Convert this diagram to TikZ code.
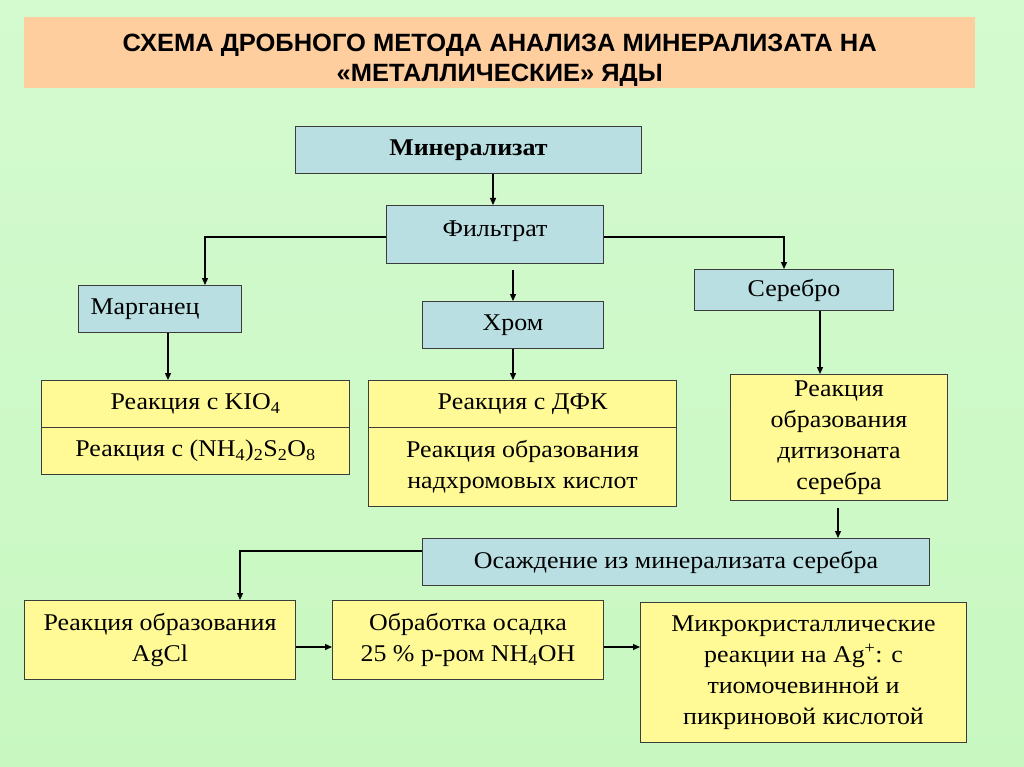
\documentclass[tikz,border=0pt]{standalone}
\usepackage{fontspec}
\setmainfont[FakeStretch=1.08]{Liberation Serif}
\newfontfamily\titlefont[FakeStretch=1.02]{Liberation Sans}
\usetikzlibrary{arrows.meta}
\definecolor{bgtop}{RGB}{212,250,208}
\definecolor{bgmid}{RGB}{250,255,248}
\definecolor{bgbot}{RGB}{200,248,192}
\definecolor{peach}{RGB}{255,206,158}
\definecolor{boxblue}{RGB}{185,223,226}
\definecolor{boxyellow}{RGB}{255,250,150}
\definecolor{edge}{RGB}{60,60,60}
\tikzset{
  basebox/.style={draw=edge, line width=1pt, inner sep=0pt, anchor=north west, align=center,
    font=\fontsize{24}{31}\selectfont},
  bluebox/.style={basebox, fill=boxblue},
  yellowbox/.style={basebox, fill=boxyellow},
  arr/.style={line width=1.3pt, -{Triangle[length=7pt,width=6pt]}},
}
\begin{document}
\begin{tikzpicture}[x=1pt,y=-1pt]
\useasboundingbox (0,0) rectangle (1024,767);
\shade[top color=bgtop, middle color=bgmid, bottom color=bgbot] (0,0) rectangle (1024,767);

% title
\node[fill=peach, minimum width=951pt, minimum height=71pt, inner sep=0pt, anchor=north west,
  align=center, font=\titlefont\bfseries\fontsize{25}{30}\selectfont] (title) at (24,17)
  {\rule{0pt}{32pt}СХЕМА ДРОБНОГО МЕТОДА АНАЛИЗА МИНЕРАЛИЗАТА НА\\«МЕТАЛЛИЧЕСКИЕ» ЯДЫ};

% blue boxes
\node[bluebox, minimum width=346pt, minimum height=47pt, font=\bfseries\fontsize{24}{31}\selectfont] (min) at (295,126) {Минерализат};
\node[bluebox, minimum width=217pt, minimum height=58pt] (fil) at (386,205) {Фильтрат\\[-19pt]\mbox{}};
\node[bluebox, minimum width=163pt, minimum height=47pt, text width=139pt, align=left, inner xsep=12pt] (mn) at (78,285) {Марганец};
\node[bluebox, minimum width=181pt, minimum height=47pt] (cr) at (422,301) {Хром};
\node[bluebox, minimum width=199pt, minimum height=41pt] (ag) at (694,269) {Серебро};

% yellow boxes, first row
\node[yellowbox, minimum width=308pt, minimum height=47pt] (k1) at (41,380) {Реакция с KIO\textsubscript{4}};
\node[yellowbox, minimum width=308pt, minimum height=47pt] (k2) at (41,427) {Реакция с (NH\textsubscript{4})\textsubscript{2}S\textsubscript{2}O\textsubscript{8}};
\node[yellowbox, minimum width=308pt, minimum height=47pt] (d1) at (368,380) {Реакция с ДФК};
\node[yellowbox, minimum width=308pt, minimum height=79pt] (d2) at (368,427) {Реакция образования\\надхромовых кислот};
\node[yellowbox, minimum width=217pt, minimum height=126pt] (dz) at (730,374) {Реакция\\образования\\дитизоната\\серебра};

% precipitation
\node[bluebox, minimum width=507pt, minimum height=47pt] (os) at (422,538) {Осаждение из минерализата серебра};

% bottom row
\node[yellowbox, minimum width=271pt, minimum height=79pt] (agcl) at (24,600) {Реакция образования\\AgCl};
\node[yellowbox, minimum width=271pt, minimum height=79pt] (obr) at (332,600) {Обработка осадка\\25 \% р-ром NH\textsubscript{4}OH};
\node[yellowbox, minimum width=326pt, minimum height=140pt] (mk) at (640,602) {Микрокристаллические\\реакции на Ag\textsuperscript{+}: с\\тиомочевинной и\\пикриновой кислотой};

% connectors
\draw[arr] (min.south -| 493,0) -- (fil.north -| 493,0);
\draw[arr] (fil.west |- 0,237) -| (mn.north -| 205,0);
\draw[arr] ([yshift=-6pt]fil.south -| 513,0) -- (cr.north -| 513,0);
\draw[arr] (fil.east |- 0,237) -| (ag.north -| 784,0);
\draw[arr] (mn.south -| 168,0) -- (k1.north -| 168,0);
\draw[arr] (cr.south -| 513,0) -- (d1.north -| 513,0);
\draw[arr] (ag.south -| 820,0) -- (dz.north -| 820,0);
\draw[arr] ([yshift=-7pt]dz.south -| 838,0) -- (os.north -| 838,0);
\draw[arr] (os.west |- 0,551) -| (agcl.north -| 240,0);
\draw[arr] (agcl.east |- 0,647) -- (obr.west |- 0,647);
\draw[arr] (obr.east |- 0,647) -- (mk.west |- 0,647);
\end{tikzpicture}
\end{document}
